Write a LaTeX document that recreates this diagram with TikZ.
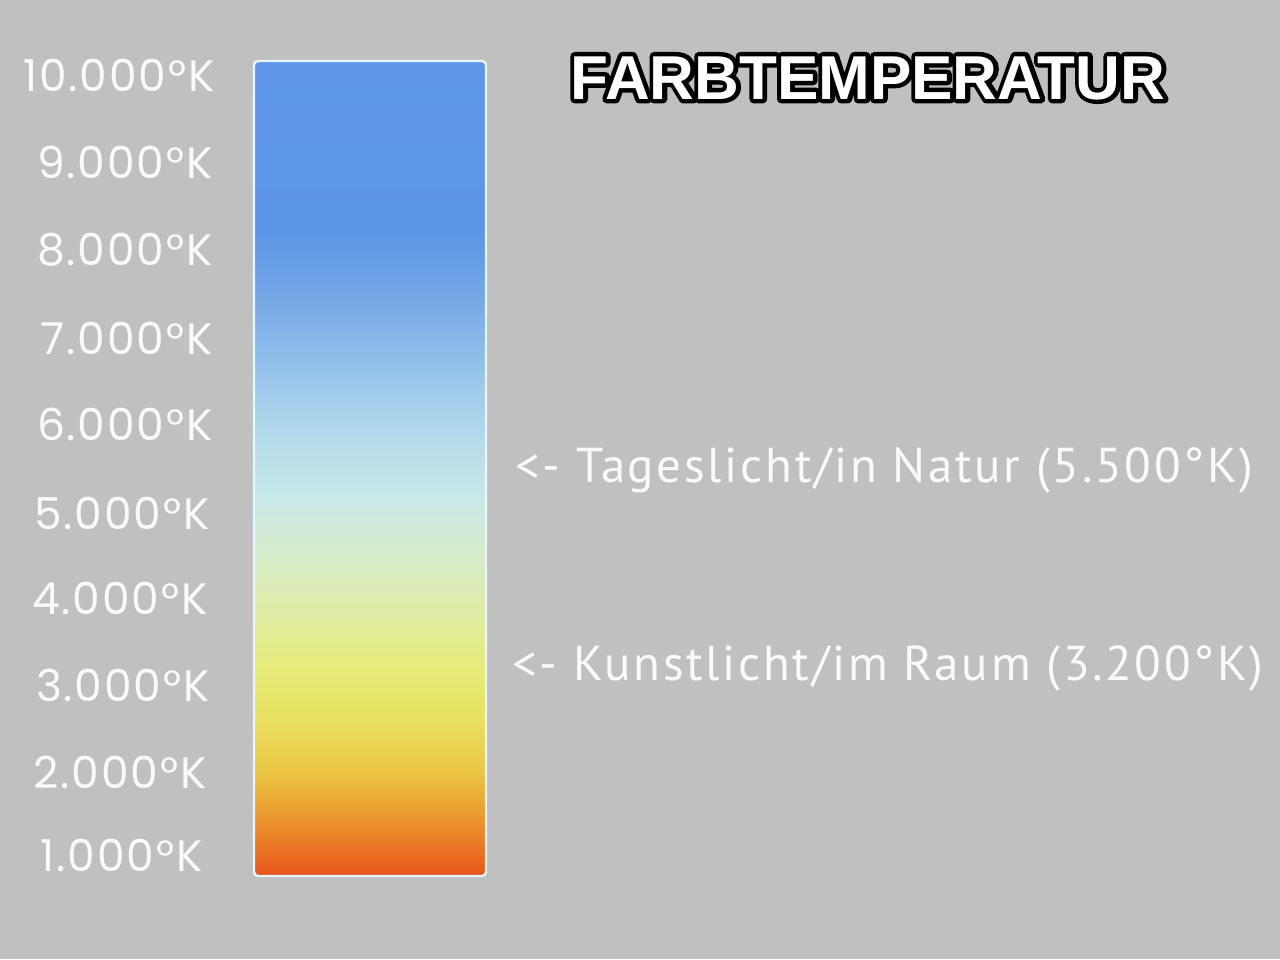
\documentclass[tikz,border=0pt]{standalone}
\usepackage{fontspec}
\setmainfont{Poppins}[LetterSpace=4.2]
\newfontfamily\titelfont{Liberation Sans}
\newfontfamily\notizfont{PT Sans}[LetterSpace=5.5]

% Farben
\definecolor{hintergrund}{RGB}{192,192,192}
\definecolor{schrift}{RGB}{250,250,250}
\definecolor{rand}{RGB}{232,245,250}
\definecolor{fsa}{RGB}{95,150,232}
\definecolor{fsb}{RGB}{92,148,230}
\definecolor{fsc}{RGB}{118,168,230}
\definecolor{fsd}{RGB}{150,195,235}
\definecolor{fse}{RGB}{182,220,235}
\definecolor{fsf}{RGB}{200,233,232}
\definecolor{fsg}{RGB}{215,235,200}
\definecolor{fsh}{RGB}{225,236,160}
\definecolor{fsi}{RGB}{230,235,120}
\definecolor{fsj}{RGB}{232,225,95}
\definecolor{fsk}{RGB}{234,200,70}
\definecolor{fsl}{RGB}{235,150,45}
\definecolor{fsm}{RGB}{232,85,28}

\pgfdeclareverticalshading{farbskala}{100bp}{
  color(0bp)=(fsm); color(25bp)=(fsm); color(28.5bp)=(fsl);
  color(31.6bp)=(fsk); color(34.6bp)=(fsj); color(37.7bp)=(fsi);
  color(40.7bp)=(fsh); color(44.4bp)=(fsg); color(48.1bp)=(fsf);
  color(51.7bp)=(fse); color(56bp)=(fsd); color(60.3bp)=(fsc);
  color(64.6bp)=(fsb); color(75bp)=(fsa); color(100bp)=(fsa)}

% Umriss-Schrift (nur gestrichen)
\newcommand{\umriss}[1]{\special{pdf:code 1 Tr 4.4 w 1 j}#1\special{pdf:code 0 Tr}}

\tikzset{
    skala/.style={text=schrift, font=\fontsize{22}{22}\selectfont, anchor=east, inner sep=0pt},
    notiz/.style={text=schrift, font=\notizfont\fontsize{24.5}{24.5}\selectfont, anchor=base west, inner sep=0pt},
    titelstil/.style={font=\titelfont\bfseries\fontsize{31}{31}\selectfont, inner sep=0pt}
}

\begin{document}
\begin{tikzpicture}[x=0.5pt, y=-0.5pt]
    % Hintergrund
    \fill[hintergrund] (0,0) rectangle (1280,959);
    \useasboundingbox (0,0) rectangle (1280,959);

    % Farbbalken
    \shade[shading=farbskala, draw=rand, line width=1.2pt, rounded corners=2pt]
        (254,61) rectangle (486,876);

    % Temperaturskala
    \foreach \t/\y/\x in {10/75/215, 9/162/213, 8/250/213, 7/338/213, 6/424/213,
                          5/513/210, 4/598/208, 3/685/210, 2/772/207, 1/855/203}
        \node[skala] (k\t) at (\x,\y) {\t.000°K};

    % Titel mit schwarzem Rand
    \node[titelstil, text=black] (titelrand) at (868,78) {\umriss{FARBTEMPERATUR}};
    \node[titelstil, text=white] (titel) at (868,78) {FARBTEMPERATUR};

    % Hinweise
    \node[notiz] (tag) at (515,482) {<- Tageslicht/in Natur (5.500°K)};
    \node[notiz] (kunst) at (512,680) {<- Kunstlicht/im Raum (3.200°K)};
\end{tikzpicture}
\end{document}
